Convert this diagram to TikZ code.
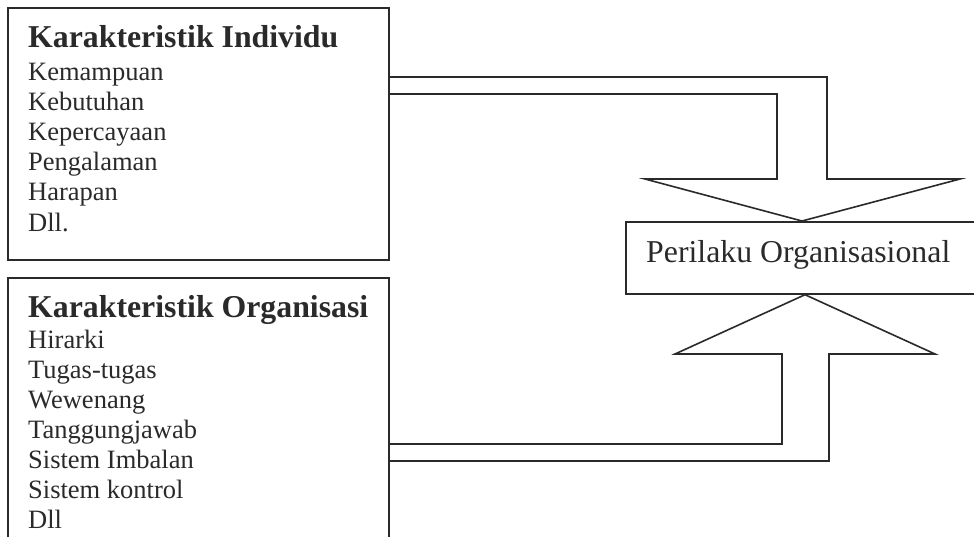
\documentclass[tikz,border=0pt]{standalone}
\usepackage{fontspec}
\setmainfont{Liberation Serif}
\definecolor{ink}{HTML}{2A2A2A}
\tikzset{
  frame/.style={draw=ink, line width=1.7pt},
  arrowshape/.style={draw=ink, line width=1.6pt, line join=miter},
  title/.style={anchor=base west, inner sep=0pt, text=ink, font=\fontsize{31.8}{31.8}\selectfont\bfseries},
  item/.style={anchor=base west, inner sep=0pt, text=ink, font=\fontsize{26.5}{26.5}\selectfont},
  label/.style={anchor=base west, inner sep=0pt, text=ink, font=\fontsize{31.8}{31.8}\selectfont}
}
\begin{document}
\begin{tikzpicture}[x=1pt,y=-1pt]
\useasboundingbox (0,0) rectangle (974,536);
\clip (0,0) rectangle (974,536);
\fill[white] (0,0) rectangle (974,536);
% boxes
\node[frame, anchor=north west, minimum width=381pt, minimum height=252pt, inner sep=0pt] (ind) at (7,7) {};
\node[frame, anchor=north west, minimum width=381pt, minimum height=300pt, inner sep=0pt] (org) at (7,277) {};
\node[frame, anchor=north west, minimum width=400pt, minimum height=72pt, inner sep=0pt] (po) at (625,221) {};
% texts of the first box
\node[title] (t1) at (28,47) {Karakteristik Individu};
\node[item] (i1) at (28,80) {Kemampuan};
\node[item] (i2) at (28,110) {Kebutuhan};
\node[item] (i3) at (28,140) {Kepercayaan};
\node[item] (i4) at (28,170) {Pengalaman};
\node[item] (i5) at (28,200) {Harapan};
\node[item] (i6) at (28,231) {Dll.};
% texts of the second box
\node[title] (t2) at (28,317) {Karakteristik Organisasi};
\node[item] (o1) at (28,348) {Hirarki};
\node[item] (o2) at (28,378) {Tugas-tugas};
\node[item] (o3) at (28,408) {Wewenang};
\node[item] (o4) at (28,438) {Tanggungjawab};
\node[item] (o5) at (28,468) {Sistem Imbalan};
\node[item] (o6) at (28,498) {Sistem kontrol};
\node[item] (o7) at (28,528) {Dll};
% result
\node[label] (pl) at (646,262) {Perilaku Organisasional};
% arrow from the first box
\draw[arrowshape] (ind.north east |- 0,77) -- (827,77) -- (827,179) -- (960,179)
  -- (po.north -| 802,0) -- (645,179) -- (777,179) -- (777,94) -- (ind.north east |- 0,94);
% arrow from the second box
\draw[arrowshape] (org.north east |- 0,444) -- (782,444) -- (782,354) -- (675,354)
  -- (po.south -| 805,0) -- (935,354) -- (829,354) -- (829,461) -- (org.north east |- 0,461);
\end{tikzpicture}
\end{document}
